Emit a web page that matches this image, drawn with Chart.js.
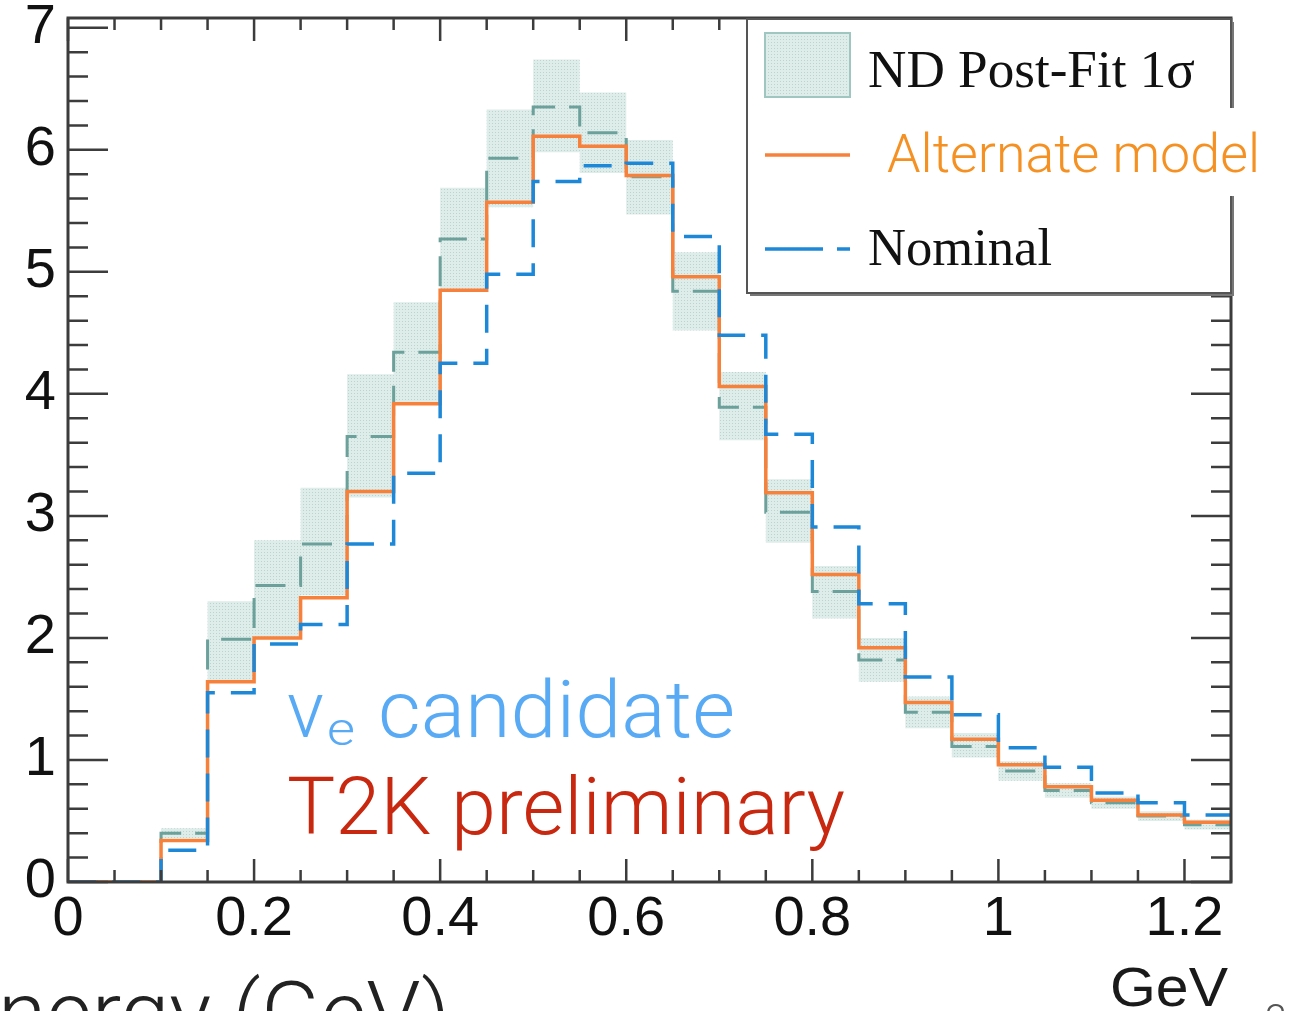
<!DOCTYPE html>
<html>
<head>
<meta charset="utf-8">
<script src="https://cdn.jsdelivr.net/npm/chart.js@4.4.0/dist/chart.umd.min.js"></script>
<style>
  html, body { margin: 0; padding: 0; background: #fff; }
  #wrap { width: 1290px; height: 1011px; }
</style>
</head>
<body>
<div id="wrap"><canvas id="spectrum" width="1290" height="1011"></canvas></div>
<script>
// bin left edges (GeV), bins are 0.05 wide; histEnd closes the last bin
const binEdges = [0, 0.05, 0.1, 0.15, 0.2, 0.25, 0.3, 0.35, 0.4, 0.45, 0.5, 0.55, 0.6,
                  0.65, 0.7, 0.75, 0.8, 0.85, 0.9, 0.95, 1.0, 1.05, 1.1, 1.15, 1.2];
const histEnd = 1.25;

const alternate = [0, 0, 0.34, 1.64, 2.00, 2.33, 3.20, 3.92, 4.85, 5.57, 6.11, 6.03, 5.79,
                   4.96, 4.06, 3.19, 2.52, 1.92, 1.47, 1.17, 0.96, 0.78, 0.67, 0.55, 0.49];
const nominal   = [0, 0, 0.26, 1.55, 1.95, 2.11, 2.77, 3.35, 4.25, 4.98, 5.74, 5.87, 5.89,
                   5.29, 4.48, 3.67, 2.91, 2.28, 1.68, 1.37, 1.10, 0.94, 0.73, 0.65, 0.55];
const postFit   = [0, 0, 0.40, 1.99, 2.43, 2.77, 3.65, 4.34, 5.27, 5.93, 6.35, 6.14, 5.78,
                   4.84, 3.89, 3.03, 2.38, 1.82, 1.39, 1.11, 0.91, 0.75, 0.65, 0.54, 0.47];
const bandHigh  = [0, 0, 0.44, 2.30, 2.80, 3.23, 4.16, 4.75, 5.69, 6.33, 6.74, 6.47, 6.08,
                   5.16, 4.18, 3.30, 2.59, 2.00, 1.52, 1.22, 0.99, 0.81, 0.70, 0.58, 0.51];
const bandLow   = [0, 0, 0.36, 1.65, 2.00, 2.35, 3.15, 3.92, 4.85, 5.53, 5.98, 5.81, 5.47,
                   4.52, 3.62, 2.78, 2.16, 1.64, 1.26, 1.02, 0.83, 0.69, 0.60, 0.50, 0.43];

const xTickLabels = [0, 0.2, 0.4, 0.6, 0.8, 1, 1.2];
const yTickLabels = [0, 1, 2, 3, 4, 5, 6, 7];

const BLUE = 'rgb(30,136,216)';
const ORANGE = 'rgb(247,128,58)';
const TEAL = 'rgb(108,160,154)';

function steps(values) {
  const pts = binEdges.map((x, i) => ({ x: x, y: values[i] }));
  pts.push({ x: histEnd, y: values[values.length - 1] });
  return pts;
}

// dotted light teal fill like the ROOT hatch
function makePattern() {
  const c = document.createElement('canvas');
  c.width = 3; c.height = 3;
  const g = c.getContext('2d');
  g.fillStyle = 'rgb(222,236,234)';
  g.fillRect(0, 0, 3, 3);
  g.fillStyle = 'rgb(186,212,208)';
  g.fillRect(0, 0, 1, 1);
  return g.createPattern(c, 'repeat');
}
const bandFill = makePattern();

function fitText(ctx, text, x, base, width, font, color) {
  ctx.save();
  ctx.font = font;
  ctx.fillStyle = color;
  ctx.textBaseline = 'alphabetic';
  ctx.textAlign = 'left';
  const w = ctx.measureText(text).width;
  ctx.translate(x, base);
  ctx.scale(width / w, 1);
  ctx.fillText(text, 0, 0);
  ctx.restore();
}

const framePlugin = {
  id: 'frame',
  beforeDraw(chart) {
    const ctx = chart.ctx;
    ctx.save();
    ctx.fillStyle = '#fff';
    ctx.fillRect(0, 0, chart.width, chart.height);
    ctx.restore();
  },
  afterDatasetsDraw(chart) {
    const { ctx, chartArea: a, scales: { x, y } } = chart;
    ctx.save();
    ctx.strokeStyle = '#3c3c3c';
    ctx.lineWidth = 2.5;
    ctx.beginPath();
    for (let i = 0; i <= 25; i++) {
      const px = x.getPixelForValue(i * 0.05);
      const len = i % 4 === 0 ? 23 : 12;
      ctx.moveTo(px, a.bottom); ctx.lineTo(px, a.bottom - len);
      ctx.moveTo(px, a.top); ctx.lineTo(px, a.top + len);
    }
    for (let i = 0; i * 0.2 <= y.max; i++) {
      const py = y.getPixelForValue(i * 0.2);
      const len = i % 5 === 0 ? 40 : 20;
      ctx.moveTo(a.left, py); ctx.lineTo(a.left + len, py);
      ctx.moveTo(a.right, py); ctx.lineTo(a.right - len, py);
    }
    ctx.stroke();
    ctx.lineWidth = 3;
    ctx.strokeRect(a.left, a.top, a.right - a.left, a.bottom - a.top);
    ctx.restore();
  },
  afterDraw(chart) {
    const ctx = chart.ctx;
    const ds = chart.data.datasets;
    ctx.save();

    // legend box
    ctx.fillStyle = '#fff';
    ctx.fillRect(747, 19, 484, 274);
    ctx.strokeStyle = '#555';
    ctx.lineWidth = 2;
    ctx.strokeRect(747, 19, 484, 274);
    ctx.strokeStyle = '#777';
    ctx.lineWidth = 2;
    ctx.beginPath();
    ctx.moveTo(1233, 22); ctx.lineTo(1233, 295); ctx.lineTo(750, 295);
    ctx.stroke();

    ctx.fillStyle = bandFill;
    ctx.fillRect(765, 33, 85, 64);
    ctx.strokeStyle = 'rgb(160,198,193)';
    ctx.lineWidth = 2;
    ctx.strokeRect(765, 33, 85, 64);

    ctx.lineWidth = 3.5;
    ctx.strokeStyle = ORANGE;
    ctx.beginPath(); ctx.moveTo(765, 155); ctx.lineTo(850, 155); ctx.stroke();
    ctx.strokeStyle = BLUE;
    ctx.setLineDash([58, 14]);
    ctx.beginPath(); ctx.moveTo(765, 249); ctx.lineTo(850, 249); ctx.stroke();
    ctx.setLineDash([]);

    ctx.fillStyle = '#111';
    ctx.textBaseline = 'alphabetic';
    fitText(ctx, ds[3].label, 868, 87, 327, '53px "Liberation Serif", serif', '#111');
    fitText(ctx, ds[0].label, 868, 265, 184, '53px "Liberation Serif", serif', '#111');

    // pasted-over label
    ctx.fillStyle = '#fff';
    ctx.fillRect(870, 108, 420, 88);
    fitText(ctx, ds[1].label, 887, 172, 373, '300 54px Roboto, "Liberation Sans", sans-serif', 'rgb(245,145,35)');

    // annotations
    fitText(ctx, '\u03bd', 287, 737, 37, '300 80px Roboto, "Liberation Sans", sans-serif', 'rgb(88,170,245)');
    fitText(ctx, 'e', 327, 745, 28, '300 46px Roboto, "Liberation Sans", sans-serif', 'rgb(88,170,245)');
    fitText(ctx, 'candidate', 378, 737, 357, '300 80px Roboto, "Liberation Sans", sans-serif', 'rgb(88,170,245)');
    fitText(ctx, 'T2K preliminary', 287, 834, 558, '300 80px Roboto, "Liberation Sans", sans-serif', 'rgb(200,40,15)');

    fitText(ctx, 'GeV', 1110, 1006, 118, '55px "Liberation Sans", sans-serif', '#1a1a1a');
    fitText(ctx, 'nergy (GeV)', -2, 1042, 452, '300 86px Roboto, "Liberation Sans", sans-serif', '#222');
    fitText(ctx, '2', 1265, 1033, 22, '300 40px Roboto, sans-serif', '#555');
    ctx.restore();
  }
};

const lineBase = { stepped: true, pointRadius: 0, fill: false, tension: 0,
                   borderCapStyle: 'butt', borderJoinStyle: 'miter' };

new Chart(document.getElementById('spectrum'), {
  type: 'line',
  data: {
    datasets: [
      Object.assign({}, lineBase, { label: 'Nominal', data: steps(nominal),
        borderColor: BLUE, borderWidth: 3.5, borderDash: [28, 16] }),
      Object.assign({}, lineBase, { label: 'Alternate model', data: steps(alternate),
        borderColor: ORANGE, borderWidth: 3.5 }),
      Object.assign({}, lineBase, { label: 'ND Post-Fit central', data: steps(postFit),
        borderColor: TEAL, borderWidth: 3, borderDash: [30, 14] }),
      Object.assign({}, lineBase, { label: 'ND Post-Fit 1\u03c3', data: steps(bandHigh),
        borderColor: 'rgba(0,0,0,0)', borderWidth: 1, backgroundColor: bandFill, fill: '+1' }),
      Object.assign({}, lineBase, { label: 'band low', data: steps(bandLow),
        borderColor: 'rgba(0,0,0,0)', borderWidth: 1 })
    ]
  },
  options: {
    responsive: false,
    animation: false,
    devicePixelRatio: 1,
    layout: { padding: { top: 18, right: 59, left: 0, bottom: 0 } },
    plugins: { legend: { display: false }, tooltip: { enabled: false } },
    scales: {
      x: {
        type: 'linear', min: 0, max: histEnd,
        grid: { display: false }, border: { display: false },
        afterBuildTicks: s => { s.ticks = xTickLabels.map(v => ({ value: v })); },
        afterFit: s => { s.height = 129; s.paddingLeft = 0; s.paddingRight = 0; },
        ticks: { autoSkip: false, maxRotation: 0, padding: 2, color: '#111',
                 font: { family: 'Liberation Sans', size: 56, lineHeight: 1.0 },
                 callback: v => String(v) }
      },
      y: {
        type: 'linear', min: 0, max: 7.08,
        grid: { display: false }, border: { display: false },
        afterBuildTicks: s => { s.ticks = yTickLabels.map(v => ({ value: v })); },
        afterFit: s => { s.width = 68; s.paddingTop = 0; s.paddingBottom = 0; },
        ticks: { padding: 4, color: '#111',
                 font: { family: 'Liberation Sans', size: 56 },
                 callback: v => String(v) }
      }
    }
  },
  plugins: [framePlugin]
});
</script>
</body>
</html>
